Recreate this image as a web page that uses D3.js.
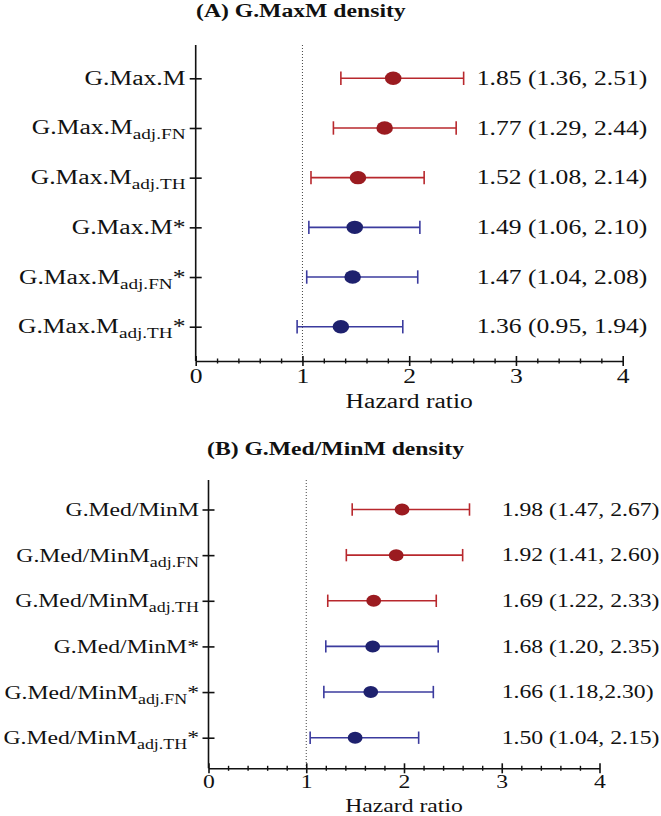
<!DOCTYPE html>
<html>
<head>
<meta charset="utf-8">
<script src="https://cdn.jsdelivr.net/npm/d3@7"></script>
<style>
  html, body { margin: 0; padding: 0; background: #fff; }
  svg { display: block; }
  text { font-family: "Liberation Serif", "Times New Roman", serif; fill: #111; }
</style>
</head>
<body>
<svg id="chart" width="661" height="816"></svg>
<script>
// ---------------- data ----------------
const xTicks = [0, 1, 2, 3, 4];
const groups = ["unadj", "unadj", "unadj", "star", "star", "star"];
const subs = ["", "adj.FN", "adj.TH", "", "adj.FN", "adj.TH"];

const baseA = "G.Max.M";
const hrA = [1.85, 1.77, 1.52, 1.49, 1.47, 1.36];
const loA = [1.36, 1.29, 1.08, 1.06, 1.04, 0.95];
const hiA = [2.51, 2.44, 2.14, 2.10, 2.08, 1.94];
const txtA = ["1.85 (1.36, 2.51)", "1.77 (1.29, 2.44)", "1.52 (1.08, 2.14)",
              "1.49 (1.06, 2.10)", "1.47 (1.04, 2.08)", "1.36 (0.95, 1.94)"];

const baseB = "G.Med/MinM";
const hrB = [1.98, 1.92, 1.69, 1.68, 1.66, 1.50];
const loB = [1.47, 1.41, 1.22, 1.20, 1.18, 1.04];
const hiB = [2.67, 2.60, 2.33, 2.35, 2.30, 2.15];
const txtB = ["1.98 (1.47, 2.67)", "1.92 (1.41, 2.60)", "1.69 (1.22, 2.33)",
              "1.68 (1.20, 2.35)", "1.66 (1.18,2.30)", "1.50 (1.04, 2.15)"];

// ---------------- styling ----------------
const S = 1.28; // horizontal stretch of the figure
const lineColor = { unadj: "#b8282d", star: "#3b3b9e" };
const dotColor  = { unadj: "#9b1b20", star: "#1e216e" };

const svg = d3.select("#chart");

function stretchedText(g, x, y, size, anchor, weight) {
  return g.append("text")
    .attr("transform", `translate(${x},${y}) scale(${S},1)`)
    .attr("text-anchor", anchor)
    .attr("font-size", size)
    .attr("font-weight", weight || "normal");
}

function panel(cfg) {
  const g = svg.append("g");
  const x = d3.scaleLinear().domain([0, 4]).range(cfg.xRange);
  const y = d3.scalePoint().domain(d3.range(cfg.hr.length)).range(cfg.rowRange);

  // title
  stretchedText(g, cfg.titleX, cfg.titleY, cfg.titleFs, "start", "bold").text(cfg.title);

  // reference line at HR = 1
  g.append("line")
    .attr("x1", x(1)).attr("x2", x(1))
    .attr("y1", cfg.top).attr("y2", cfg.axisY)
    .attr("stroke", "#444").attr("stroke-width", 1)
    .attr("stroke-dasharray", "1,2");

  // x axis major
  const ax = g.append("g").attr("transform", `translate(0,${cfg.axisY})`)
    .call(d3.axisBottom(x).tickValues(xTicks).tickFormat(d3.format("d"))
      .tickSize(10).tickSizeOuter(0).tickPadding(0));
  ax.select(".domain").attr("stroke", "#111").attr("stroke-width", 1.6);
  ax.selectAll(".tick line").attr("y1", -cfg.major).attr("y2", cfg.major)
    .attr("stroke", "#111").attr("stroke-width", 1.6);
  ax.selectAll(".tick text")
    .attr("y", cfg.tickLabelDy).attr("dy", 0)
    .attr("font-size", cfg.fs).attr("fill", "#111")
    .attr("font-family", "Liberation Serif, Times New Roman, serif")
    .attr("transform", `scale(${S},1)`);

  // x axis minor
  const minor = d3.range(1, 20).map(i => i * 0.2).filter(v => Math.abs(v - Math.round(v)) > 1e-6);
  const axm = g.append("g").attr("transform", `translate(0,${cfg.axisY})`)
    .call(d3.axisBottom(x).tickValues(minor).tickFormat("").tickSize(5).tickSizeOuter(0));
  axm.select(".domain").remove();
  axm.selectAll(".tick line").attr("y1", -cfg.minor).attr("y2", cfg.minor)
    .attr("stroke", "#111").attr("stroke-width", 1.4);

  // x axis title
  stretchedText(g, x(2), cfg.xTitleY, cfg.fs, "middle").text("Hazard ratio");

  // y axis
  g.append("line")
    .attr("x1", x(0)).attr("x2", x(0))
    .attr("y1", cfg.top).attr("y2", cfg.axisY)
    .attr("stroke", "#111").attr("stroke-width", 1.6);
  const ay = g.append("g").attr("transform", `translate(${x(0)},0)`)
    .call(d3.axisLeft(y).tickFormat("").tickSize(6).tickSizeOuter(0));
  ay.select(".domain").remove();
  ay.selectAll(".tick line").attr("x1", -cfg.ytick).attr("x2", cfg.ytick)
    .attr("stroke", "#111").attr("stroke-width", 1.6);

  // row labels
  cfg.hr.forEach((d, i) => {
    const t = stretchedText(g, cfg.labelRight, y(i) + cfg.labelDy, cfg.fs, "end");
    t.append("tspan").text(cfg.base);
    if (subs[i]) {
      t.append("tspan").attr("font-size", cfg.subFs).attr("dy", cfg.subDy).text(subs[i]);
      if (groups[i] === "star") t.append("tspan").attr("dy", -cfg.subDy).text("*");
    } else if (groups[i] === "star") {
      t.append("tspan").text("*");
    }
  });

  // error bars
  const rows = g.selectAll("g.row").data(cfg.hr.map((d, i) => i)).join("g").attr("class", "row");
  rows.append("line")
    .attr("x1", i => x(cfg.lo[i])).attr("x2", i => x(cfg.hi[i]))
    .attr("y1", i => y(i)).attr("y2", i => y(i))
    .attr("stroke", i => lineColor[groups[i]]).attr("stroke-width", 1.6);
  ["lo", "hi"].forEach(k => {
    rows.append("line")
      .attr("x1", i => x(cfg[k][i])).attr("x2", i => x(cfg[k][i]))
      .attr("y1", i => y(i) - cfg.cap).attr("y2", i => y(i) + cfg.cap)
      .attr("stroke", i => lineColor[groups[i]]).attr("stroke-width", 1.6);
  });
  rows.append("ellipse")
    .attr("cx", i => x(cfg.hr[i])).attr("cy", i => y(i))
    .attr("rx", cfg.rx).attr("ry", cfg.ry)
    .attr("fill", i => dotColor[groups[i]]);

  // value text
  cfg.txt.forEach((s, i) => {
    stretchedText(g, cfg.valueX, y(i) + cfg.valueDy, cfg.fs, "start").text(s);
  });
}

panel({
  title: "(A) G.MaxM density", titleX: 196, titleY: 16.5, titleFs: 18.5,
  base: baseA, hr: hrA, lo: loA, hi: hiA, txt: txtA,
  xRange: [195.7, 622.7], rowRange: [78.3, 326.7],
  top: 45, axisY: 361, fs: 20, subFs: 15, subDy: 5,
  labelRight: 185.5, labelDy: 6.5, valueX: 476.7, valueDy: 6.7,
  tickLabelDy: 21.7, xTitleY: 408,
  major: 5, minor: 2.5, ytick: 6, cap: 6.7, rx: 8.3, ry: 6.7
});

panel({
  title: "(B) G.Med/MinM density", titleX: 207, titleY: 455, titleFs: 18.5,
  base: baseB, hr: hrB, lo: loB, hi: hiB, txt: txtB,
  xRange: [208.5, 599.5], rowRange: [509.5, 737.7],
  top: 480, axisY: 768.3, fs: 18.5, subFs: 14, subDy: 5,
  labelRight: 199, labelDy: 6.5, valueX: 501.7, valueDy: 6.2,
  tickLabelDy: 20.2, xTitleY: 812,
  major: 5, minor: 2.5, ytick: 6, cap: 6.2, rx: 7.4, ry: 6
});
</script>
</body>
</html>
